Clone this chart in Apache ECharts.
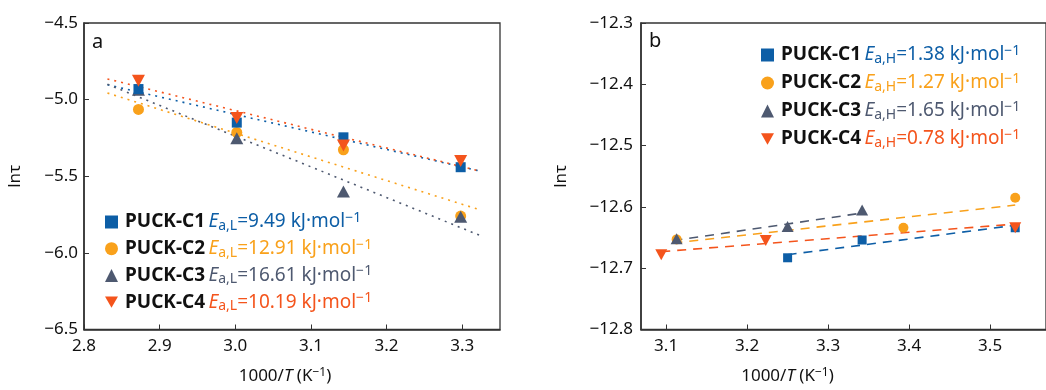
<!DOCTYPE html>
<html>
<head>
<meta charset="utf-8">
<script src="https://cdn.jsdelivr.net/npm/echarts@6/dist/echarts.min.js"></script>
<style>
html,body{margin:0;padding:0;background:#fff;}
#main{width:1046px;height:390px;}
</style>
</head>
<body>
<div id="main"></div>
<script>
// ---------- data ----------
const seriesNames = ['PUCK-C1', 'PUCK-C2', 'PUCK-C3', 'PUCK-C4'];
const eaLow = ['9.49', '12.91', '16.61', '10.19'];
const eaHigh = ['1.38', '1.27', '1.65', '0.78'];

// panel a (low temperature) : [1000/T, ln tau]
const aC1 = [[2.872, -4.931], [3.002, -5.150], [3.143, -5.246], [3.298, -5.441]];
const aC2 = [[2.872, -5.064], [3.002, -5.214], [3.143, -5.327], [3.298, -5.760]];
const aC3 = [[2.872, -4.935], [3.002, -5.252], [3.143, -5.600], [3.298, -5.765]];
const aC4 = [[2.872, -4.877], [3.002, -5.120], [3.143, -5.300], [3.298, -5.400]];
// fitted lines (endpoints)
const aFit1 = [[2.831, -4.903], [3.324, -5.467]];
const aFit2 = [[2.831, -4.957], [3.324, -5.720]];
const aFit3 = [[2.831, -4.900], [3.324, -5.887]];
const aFit4 = [[2.831, -4.865], [3.324, -5.467]];

// panel b (high temperature)
const bC1 = [[3.250, -12.683], [3.342, -12.654], [3.531, -12.634]];
const bC2 = [[3.113, -12.653], [3.393, -12.634], [3.531, -12.585]];
const bC3 = [[3.113, -12.652], [3.250, -12.632], [3.342, -12.605]];
const bC4 = [[3.094, -12.678], [3.223, -12.655], [3.531, -12.634]];
const bFit1 = [[3.250, -12.678], [3.531, -12.630]];
const bFit2 = [[3.109, -12.659], [3.531, -12.597]];
const bFit3 = [[3.109, -12.655], [3.342, -12.610]];
const bFit4 = [[3.094, -12.673], [3.531, -12.628]];

const xTicksB = [3.1, 3.2, 3.3, 3.4, 3.5];

// ---------- styles ----------
const FONT = 'Noto Sans';
const colors = ['#0d5ea6', '#f9a11b', '#4e5970', '#f4541c'];
const symbols = ['rect', 'circle', 'triangle', 'path://M0,0 L10,0 L5,8.66 Z'];
const symSizesA = [10, 11, [13, 12], [13, 12]];
const symSizesB = [9, 10, [12, 11], [12, 11]];
const axisColor = '#333';
const minus = s => s.replace('-', '\u2212');

const rich = {
  b: {fontFamily: FONT, fontWeight: 'bold', fontSize: 19, color: '#111', lineHeight: 22, padding: [0, 0, 0, 2]}
};
colors.forEach((c, i) => {
  rich['e' + i] = {fontFamily: FONT, fontStyle: 'italic', fontSize: 19, color: c, lineHeight: 22};
  rich['s' + i] = {fontFamily: FONT, fontSize: 14, color: c, lineHeight: 12, verticalAlign: 'bottom'};
  rich['v' + i] = {fontFamily: FONT, fontSize: 19, color: c, lineHeight: 22};
  rich['p' + i] = {fontFamily: FONT, fontSize: 14, color: c, lineHeight: 8, verticalAlign: 'top'};
});
function legendText(i, sub, val) {
  return '{b|' + seriesNames[i] + '} {e' + i + '|E}{s' + i + '|' + sub + '}{v' + i + '|=' + val + ' kJ\u00b7mol}{p' + i + '|\u22121}';
}

const aData = [aC1, aC2, aC3, aC4];
const bData = [bC1, bC2, bC3, bC4];
const aFits = [aFit1, aFit2, aFit3, aFit4];
const bFits = [bFit1, bFit2, bFit3, bFit4];
const drawOrder = [1, 2, 0, 3];

const series = [];
[[aFits, 0, [2, 5]], [bFits, 1, [9, 7]]].forEach(([fits, gi, dash]) => {
  fits.forEach((d, i) => {
    series.push({
      type: 'line', xAxisIndex: gi, yAxisIndex: gi, data: d, showSymbol: false, silent: true,
      lineStyle: {color: colors[i], width: 1.6, type: dash}, z: 2
    });
  });
});
const nameMap = {};
[[aData, 0, 'a', 'a,L', eaLow, symSizesA], [bData, 1, 'b', 'a,H', eaHigh, symSizesB]].forEach(([data, gi, tag, sub, ea, sizes]) => {
  drawOrder.forEach(i => {
    const nm = tag + i;
    nameMap[nm] = legendText(i, sub, ea[i]);
    series.push({
      type: 'scatter', name: nm, xAxisIndex: gi, yAxisIndex: gi, data: data[i],
      symbol: symbols[i], symbolSize: sizes[i],
      itemStyle: {color: colors[i], opacity: 1}, z: 5
    });
  });
});

const xName = '1000/{i|T} (K{sup|\u22121})';
const nameStyle = (padRight) => ({
  fontFamily: FONT, fontSize: 17, color: '#111', padding: [0, padRight, 0, 0],
  rich: {
    i: {fontFamily: FONT, fontSize: 17, fontStyle: 'italic', color: '#111', lineHeight: 20},
    sup: {fontFamily: FONT, fontSize: 12, color: '#111', lineHeight: 8, verticalAlign: 'top'}
  }
});
const labelStyle = {fontFamily: FONT, fontSize: 17, color: '#111'};

const option = {
  animation: false,
  backgroundColor: '#fff',
  grid: [
    {left: 84, top: 23, width: 416, height: 311, show: true, borderColor: axisColor, borderWidth: 1.3, containLabel: false},
    {left: 641, top: 23, width: 408, height: 311, show: true, borderColor: axisColor, borderWidth: 1.3, containLabel: false}
  ],
  xAxis: [
    {type: 'value', gridIndex: 0, min: 2.8, max: 3.35, interval: 0.1,
     axisLine: {lineStyle: {color: axisColor, width: 1.6}},
     axisTick: {inside: true, length: 5, lineStyle: {color: axisColor}},
     axisLabel: Object.assign({margin: 8, showMaxLabel: false, formatter: v => v.toFixed(1)}, labelStyle),
     splitLine: {show: false},
     name: xName, nameLocation: 'middle', nameGap: 37, nameTextStyle: nameStyle(14)},
    {type: 'value', gridIndex: 1, min: 3.069, max: 3.569,
     axisLine: {lineStyle: {color: axisColor, width: 1.6}},
     axisTick: {inside: true, length: 5, lineStyle: {color: axisColor}, customValues: xTicksB},
     axisLabel: Object.assign({margin: 8, customValues: xTicksB, formatter: v => v.toFixed(1)}, labelStyle),
     splitLine: {show: false},
     name: xName, nameLocation: 'middle', nameGap: 37, nameTextStyle: nameStyle(112)}
  ],
  yAxis: [
    {type: 'value', gridIndex: 0, min: -6.5, max: -4.5, interval: 0.5,
     axisLine: {lineStyle: {color: axisColor, width: 1.6}},
     axisTick: {inside: true, length: 5, lineStyle: {color: axisColor}},
     axisLabel: Object.assign({margin: 6, formatter: v => minus(v.toFixed(1))}, labelStyle),
     splitLine: {show: false},
     name: 'ln\u03c4', nameLocation: 'middle', nameGap: 60, nameTextStyle: {fontFamily: FONT, fontSize: 17, color: '#111'}},
    {type: 'value', gridIndex: 1, min: -12.8, max: -12.3, interval: 0.1,
     axisLine: {lineStyle: {color: axisColor, width: 1.6}},
     axisTick: {inside: true, length: 5, lineStyle: {color: axisColor}},
     axisLabel: Object.assign({margin: 8, formatter: v => minus(v.toFixed(1))}, labelStyle),
     splitLine: {show: false},
     name: 'ln\u03c4', nameLocation: 'middle', nameGap: 71, nameTextStyle: {fontFamily: FONT, fontSize: 17, color: '#111'}}
  ],
  legend: [
    {orient: 'vertical', left: 105, top: 211, padding: 0, itemGap: 4.7, itemWidth: 13, itemHeight: 13,
     data: [0, 1, 2, 3].map(i => ({name: 'a' + i, icon: symbols[i]})),
     formatter: n => nameMap[n], textStyle: {rich: rich}, selectedMode: false},
    {orient: 'vertical', left: 761, top: 44, padding: 0, itemGap: 6, itemWidth: 13, itemHeight: 13,
     data: [0, 1, 2, 3].map(i => ({name: 'b' + i, icon: symbols[i]})),
     formatter: n => nameMap[n], textStyle: {rich: rich}, selectedMode: false}
  ],
  graphic: [
    {type: 'text', left: 92, top: 32, style: {text: 'a', fontFamily: FONT, fontSize: 20, fill: '#111'}},
    {type: 'text', left: 649, top: 31, style: {text: 'b', fontFamily: FONT, fontSize: 20, fill: '#111'}}
  ],
  series: series
};
const chart = echarts.init(document.getElementById('main'), null, {renderer: 'canvas'});
chart.setOption(option);
</script>
</body>
</html>
